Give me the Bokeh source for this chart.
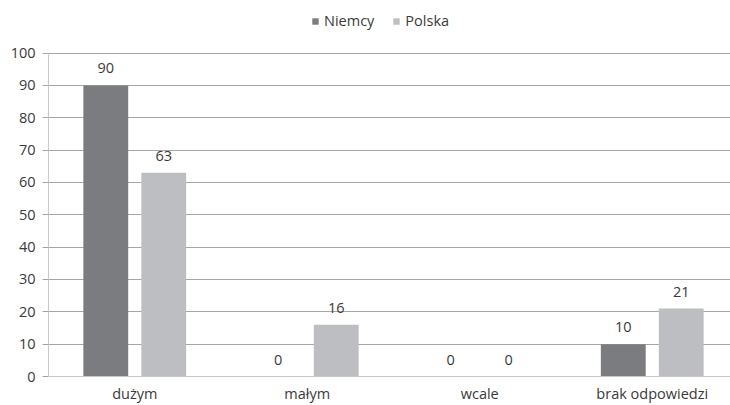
from bokeh.plotting import figure
from bokeh.models import ColumnDataSource, Legend, LegendItem, FixedTicker
from bokeh.embed import file_html
from bokeh.resources import INLINE
from bokeh.core.properties import value

categories = ["dużym", "małym", "wcale", "brak odpowiedzi"]
niemcy = [90, 0, 0, 10]
polska = [63, 16, 0, 21]
y_ticks = list(range(0, 101, 10))

DARK = "#7b7c80"
LIGHT = "#bdbec2"
TEXT = "#3a3a3a"
FONT = "Open Sans"
FS = "14.5px"

xc = [i + 0.5 for i in range(len(categories))]
off = 0.168
bw = 0.26

src_n = ColumnDataSource(dict(x=[v - off for v in xc], top=niemcy, lab=[str(v) for v in niemcy]))
src_p = ColumnDataSource(dict(x=[v + off for v in xc], top=polska, lab=[str(v) for v in polska]))

p = figure(frame_width=682, frame_height=368, x_range=(0, 682 / 172.5), y_range=(0, 368 / 3.234),
           output_backend="svg", toolbar_location=None,
           min_border_left=48, min_border_right=0, min_border_top=8, min_border_bottom=10)
p.outline_line_color = None
p.background_fill_color = "white"

rn = p.vbar(x="x", top="top", width=bw, bottom=0, source=src_n, fill_color=DARK, line_color=None)
rp = p.vbar(x="x", top="top", width=bw, bottom=0, source=src_p, fill_color=LIGHT, line_color=None)

for s in (src_n, src_p):
    p.text(x="x", y="top", text="lab", source=s, text_align="center", text_baseline="middle",
           y_offset=-17, text_font=value(FONT), text_font_size=FS, text_color=TEXT)

p.yaxis.ticker = FixedTicker(ticks=y_ticks)
p.yaxis.bounds = (0, 100)
p.yaxis.axis_line_color = "#c8c8c8"
p.yaxis.major_tick_line_color = "#a6a6a6"
p.yaxis.major_tick_out = 6
p.yaxis.major_tick_in = 0
p.yaxis.minor_tick_line_color = None
p.yaxis.major_label_standoff = 7
p.yaxis.major_label_text_font = FONT
p.yaxis.major_label_text_font_size = FS
p.yaxis.major_label_text_color = TEXT

p.xaxis.ticker = FixedTicker(ticks=xc)
p.xaxis.major_label_overrides = {v: c for v, c in zip(xc, categories)}
p.xaxis.axis_line_color = "#c8c8c8"
p.xaxis.major_tick_line_color = None
p.xaxis.minor_tick_line_color = None
p.xaxis.major_tick_out = 0
p.xaxis.major_label_standoff = 7
p.xaxis.major_label_text_font = FONT
p.xaxis.major_label_text_font_size = FS
p.xaxis.major_label_text_color = TEXT

p.xgrid.grid_line_color = None
p.ygrid.grid_line_color = "#a6a6a6"
p.ygrid.ticker = FixedTicker(ticks=y_ticks[1:])

legend = Legend(items=[LegendItem(label="Niemcy", renderers=[rn]),
                       LegendItem(label="Polska", renderers=[rp])],
                orientation="horizontal", location=(263, 346),
                glyph_width=8, glyph_height=8, label_text_font=FONT,
                label_text_font_size=FS, label_text_color=TEXT,
                spacing=18, label_standoff=5, padding=2, margin=0,
                background_fill_alpha=0, border_line_color=None)
p.add_layout(legend, "center")

open("out.html", "w").write(file_html(p, INLINE))
